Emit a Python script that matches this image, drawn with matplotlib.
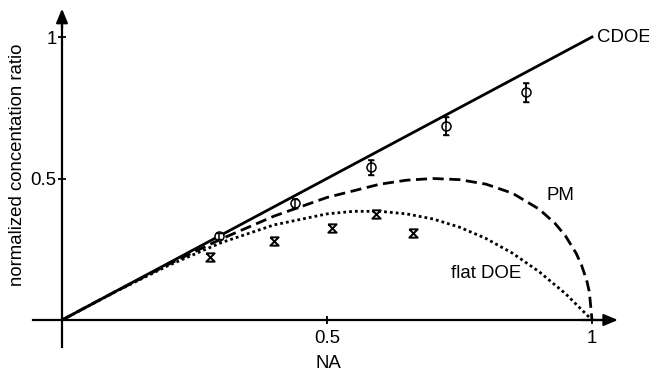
import numpy as np
import matplotlib.pyplot as plt

plt.rcParams['font.family'] = ['Liberation Sans', 'DejaVu Sans']
fs = 13.4

# theory curves
na_cdoe = [0.0, 1.0]
ratio_cdoe = [0.0, 1.0]

na_pm = [0.0, 0.05, 0.1, 0.2, 0.3, 0.4, 0.5, 0.6, 0.65, 0.7, 0.75, 0.8, 0.85,
         0.9, 0.93, 0.95, 0.97, 0.98, 0.99, 0.995, 1.0]
ratio_pm = [0.0, 0.05, 0.0995, 0.196, 0.286, 0.367, 0.433, 0.48, 0.494, 0.5,
            0.496, 0.48, 0.448, 0.392, 0.342, 0.297, 0.236, 0.195, 0.140,
            0.099, 0.0]

na_flat = [0.0, 0.1, 0.2, 0.3, 0.4, 0.5, 0.55, 0.6, 0.65, 0.7, 0.75, 0.8,
           0.85, 0.9, 0.95, 1.0]
ratio_flat = [0.0, 0.099, 0.192, 0.273, 0.336, 0.375, 0.384, 0.384, 0.375,
              0.357, 0.328, 0.288, 0.236, 0.171, 0.093, 0.0]

# measurements
na_circ = [0.296, 0.44, 0.583, 0.725, 0.875]
ratio_circ = [0.297, 0.413, 0.54, 0.686, 0.804]
err_circ = [0.012, 0.016, 0.026, 0.031, 0.034]

na_hg = [0.279, 0.40, 0.51, 0.592, 0.662]
ratio_hg = [0.223, 0.279, 0.325, 0.375, 0.307]

fig = plt.figure(figsize=(6.49, 3.77), dpi=100)
ax = fig.add_axes([0, 0, 1, 1])
ax.set_xlim(-62 / 530, 587 / 530)
ax.set_ylim(-57 / 283, 320 / 283)

for s in ['top', 'right']:
    ax.spines[s].set_visible(False)
ax.spines['left'].set_position(('data', 0))
ax.spines['bottom'].set_position(('data', 0))
ax.spines['left'].set_bounds(-0.095, 1.07)
ax.spines['bottom'].set_bounds(-0.055, 1.03)
ax.spines['left'].set_linewidth(1.6)
ax.spines['bottom'].set_linewidth(1.6)

arrow = dict(arrowstyle='-|>,head_length=0.6,head_width=0.25', color='k',
             lw=1.6, mutation_scale=14, shrinkA=0, shrinkB=0)
ax.annotate('', xy=(1.049, 0), xytext=(0.98, 0), arrowprops=arrow)
ax.annotate('', xy=(0, 1.10), xytext=(0, 1.03), arrowprops=arrow)

ax.set_xticks([0.5, 1], labels=['0.5', '1'])
ax.set_yticks([0.5, 1], labels=['0.5', '1'])
ax.tick_params(direction='inout', length=6, width=1.3, labelsize=fs)
ax.tick_params(axis='x', pad=4)
ax.tick_params(axis='y', pad=1)

lw = 2.0
ax.plot(na_cdoe, ratio_cdoe, color='k', lw=lw)
ax.plot(na_pm, ratio_pm, color='k', lw=lw, linestyle=(0, (4, 2)))
ax.plot(na_flat, ratio_flat, color='k', lw=lw, linestyle=(0, (1, 1.1)))

ax.errorbar(na_circ, ratio_circ, yerr=err_circ, fmt='o', mfc='white',
            mec='k', ms=6.5, mew=1.1, ecolor='k', elinewidth=1.1, capsize=2.5,
            zorder=5)
ax.errorbar(na_circ, ratio_circ, yerr=err_circ, fmt='none', ecolor='k',
            elinewidth=1.1, capsize=2.5, zorder=6)

hourglass = [(-1, 1), (1, 1), (-1, -1), (1, -1), (-1, 1)]
ax.plot(na_hg, ratio_hg, linestyle='none', marker=hourglass, ms=6,
        mfc='white', mec='k', mew=1.4, zorder=5)

ax.text(1.009, 1.0, 'CDOE', fontsize=fs, ha='left', va='center')
ax.text(0.94, 0.44, 'PM', fontsize=fs, ha='center', va='center')
ax.text(0.80, 0.166, 'flat DOE', fontsize=fs, ha='center', va='center')

fig.text(328 / 649, 1 - 364 / 377, 'NA', fontsize=fs, ha='center',
         va='center')
fig.text(18 / 649, 1 - 165 / 377, 'normalized concentation ratio',
         fontsize=fs, rotation=90, ha='center', va='center')

fig.savefig('out.png', dpi=100)
